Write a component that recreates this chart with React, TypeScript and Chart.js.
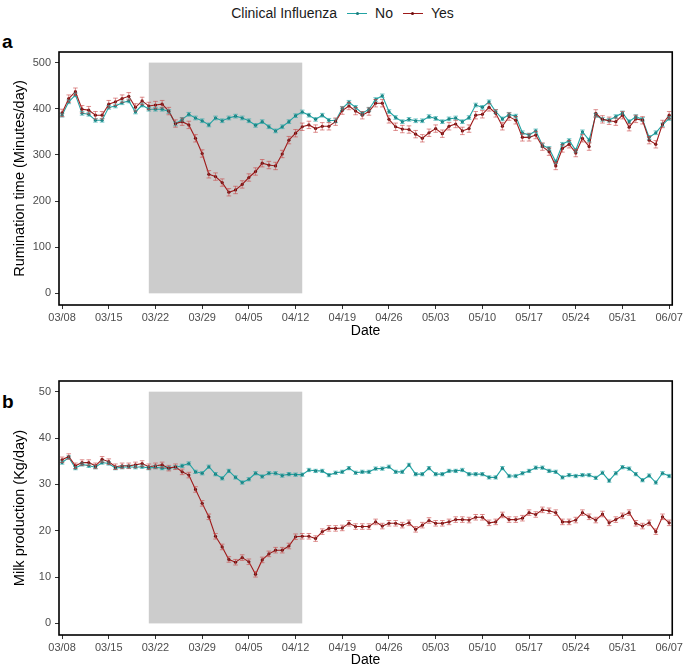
import React, { useEffect, useRef } from "react";
import { Chart, registerables } from "chart.js";
Chart.register(...registerables);

const FONT = "'Liberation Sans', Arial, Helvetica, sans-serif";

// Categories: daily dates starting 03/08 (92 days, through 06/07)
const START_MONTH = 3;
const START_DAY = 8;
const N_DAYS = 92;
const dayIndex = Array.from({ length: N_DAYS }, (_, i) => i);
const dateLabels = dayIndex.map((i) => {
  const d = new Date(2020, START_MONTH - 1, START_DAY + i);
  return String(d.getMonth() + 1).padStart(2, "0") + "/" + String(d.getDate()).padStart(2, "0");
});

// Tick labels (every 7 days)
const tickDays = [0, 7, 14, 21, 28, 35, 42, 49, 56, 63, 70, 77, 84, 91];
const tickLabels = ["03/08", "03/15", "03/22", "03/29", "04/05", "04/12", "04/19", "04/26", "05/03", "05/10", "05/17", "05/24", "05/31", "06/07"];

// Shaded outbreak window (day indices: 03/21 .. 04/13)
const bandStartDay = 13;
const bandEndDay = 36;

// Panel a: rumination time (minutes/day)
const rumNo = [
  386, 415, 430, 390, 388, 375, 375, 403, 406, 413, 417, 393, 408, 399, 399, 399, 394, 367, 377, 388,
  380, 374, 365, 380, 374, 380, 384, 380, 374, 364, 372, 361, 352, 361, 372, 385, 393, 386, 377, 386,
  375, 374, 401, 414, 403, 390, 399, 420, 428, 394, 381, 372, 377, 374, 374, 383, 379, 372, 378, 380,
  372, 381, 408, 403, 415, 394, 378, 388, 384, 348, 343, 352, 321, 314, 285, 323, 331, 310, 350, 332,
  386, 377, 375, 383, 391, 372, 383, 377, 338, 348, 365, 379,
];
const rumYes = [
  391, 422, 437, 399, 397, 386, 386, 410, 415, 422, 427, 403, 417, 406, 408, 410, 395, 368, 372, 365,
  336, 303, 258, 253, 240, 219, 224, 236, 251, 264, 282, 278, 276, 302, 332, 347, 361, 365, 357, 362,
  362, 372, 396, 406, 395, 386, 394, 412, 412, 377, 361, 356, 355, 345, 336, 348, 357, 346, 362, 367,
  352, 357, 386, 388, 403, 390, 362, 383, 375, 338, 338, 343, 318, 307, 276, 314, 323, 304, 336, 318,
  390, 377, 374, 372, 386, 360, 378, 375, 332, 323, 367, 386,
];
const rumErrNo = 4;
const rumErrYes = 8;

// Panel b: milk production (kg/day)
const milkNo = [
  34.7, 35.8, 33.5, 34.3, 34.0, 33.7, 34.7, 34.5, 33.5, 33.7, 33.8, 33.7, 33.8, 33.5, 33.7, 33.5, 33.5, 33.7, 34.0, 34.5,
  32.7, 32.4, 33.8, 32.2, 31.3, 32.9, 31.5, 30.4, 31.1, 32.4, 31.7, 32.4, 32.4, 31.9, 32.2, 32.1, 32.1, 33.1, 32.9, 32.9,
  32.0, 32.5, 32.7, 33.5, 32.5, 32.7, 32.7, 33.4, 33.4, 33.8, 32.7, 32.7, 34.2, 32.2, 32.2, 33.5, 32.2, 32.2, 32.9, 32.9,
  33.1, 32.2, 32.2, 32.2, 31.5, 31.5, 33.5, 31.8, 31.8, 32.4, 32.9, 33.6, 33.6, 32.9, 32.7, 31.5, 32.0, 31.8, 32.0, 32.0,
  31.4, 32.5, 30.8, 32.4, 33.7, 33.4, 32.2, 30.9, 31.9, 30.4, 32.4, 31.8,
];
const milkYes = [
  35.3, 36.0, 34.0, 34.7, 34.7, 34.0, 35.4, 34.9, 33.8, 34.0, 34.0, 34.2, 34.5, 33.8, 34.0, 34.2, 33.5, 33.8, 32.7, 32.0,
  28.9, 25.9, 23.0, 18.8, 16.5, 13.8, 13.2, 14.2, 13.3, 10.6, 13.7, 15.0, 15.8, 15.8, 16.7, 18.7, 18.8, 18.8, 18.3, 19.8,
  20.5, 20.5, 20.6, 21.6, 20.9, 20.9, 20.9, 21.9, 21.0, 21.6, 21.6, 21.2, 21.7, 20.3, 21.2, 22.2, 21.6, 21.6, 21.9, 22.4,
  22.4, 22.3, 22.9, 22.9, 21.7, 21.9, 23.4, 22.4, 22.4, 22.7, 23.9, 23.5, 24.5, 24.3, 23.9, 21.9, 21.9, 22.3, 23.9, 23.0,
  22.3, 23.6, 21.7, 22.4, 23.2, 23.9, 21.6, 21.0, 21.7, 19.8, 23.0, 21.7,
];
const milkErrNo = 0.35;
const milkErrYes = 0.6;

const TEAL = "#22A3A3";
const TEAL_PT = "#1A7C7C";
const TEAL_ERR = "rgba(34,163,163,0.6)";
const RED = "#9E1A1A";
const RED_PT = "#6E0E0E";
const RED_ERR = "rgba(200,70,70,0.6)";

type PanelProps = {
  top: number;
  height: number;
  padTop: number;
  xAxisH: number;
  no: number[];
  yes: number[];
  errNo: number;
  errYes: number;
  yMin: number;
  yMax: number;
  yTicks: number[];
  bandTop: number;
  yTitle: string;
};

function Panel(p: PanelProps) {
  const ref = useRef<HTMLCanvasElement | null>(null);
  useEffect(() => {
    if (!ref.current) return;
    const band = {
      id: "band",
      beforeDatasetsDraw(chart: any) {
        const { ctx, scales } = chart;
        const x0 = scales.x.getPixelForValue(bandStartDay);
        const x1 = scales.x.getPixelForValue(bandEndDay);
        const y0 = scales.y.getPixelForValue(p.bandTop);
        const y1 = scales.y.getPixelForValue(0);
        ctx.save();
        ctx.fillStyle = "#CCCCCC";
        ctx.fillRect(x0, y0, x1 - x0, y1 - y0);
        ctx.restore();
      },
    };
    const errs = {
      id: "errs",
      afterDatasetsDraw(chart: any) {
        const { ctx, scales } = chart;
        ctx.save();
        ctx.lineWidth = 1;
        chart.data.datasets.forEach((ds: any) => {
          ctx.strokeStyle = ds.errColor;
          ds.data.forEach((pt: any) => {
            const px = scales.x.getPixelForValue(pt.x);
            const yt = scales.y.getPixelForValue(pt.y + ds.err);
            const yb = scales.y.getPixelForValue(pt.y - ds.err);
            ctx.beginPath();
            ctx.moveTo(px, yt);
            ctx.lineTo(px, yb);
            ctx.moveTo(px - 2.3, yt);
            ctx.lineTo(px + 2.3, yt);
            ctx.moveTo(px - 2.3, yb);
            ctx.lineTo(px + 2.3, yb);
            ctx.stroke();
          });
        });
        ctx.restore();
      },
    };
    const frame = {
      id: "frame",
      afterDraw(chart: any) {
        const { ctx, chartArea: a } = chart;
        ctx.save();
        ctx.strokeStyle = "#000";
        ctx.lineWidth = 1.6;
        ctx.strokeRect(a.left, a.top, a.right - a.left, a.bottom - a.top);
        ctx.restore();
      },
    };
    const chart = new Chart(ref.current, {
      type: "line",
      data: {
        datasets: [
          {
            label: "No",
            data: dayIndex.map((i) => ({ x: i, y: p.no[i] })),
            borderColor: TEAL,
            backgroundColor: TEAL_PT,
            pointBackgroundColor: TEAL_PT,
            pointBorderWidth: 0,
            pointRadius: 1.6,
            borderWidth: 1.1,
            tension: 0,
            order: 1,
            err: p.errNo,
            errColor: TEAL_ERR,
          } as any,
          {
            label: "Yes",
            data: dayIndex.map((i) => ({ x: i, y: p.yes[i] })),
            borderColor: RED,
            backgroundColor: RED_PT,
            pointBackgroundColor: RED_PT,
            pointBorderWidth: 0,
            pointRadius: 1.6,
            borderWidth: 1.1,
            tension: 0,
            order: 0,
            err: p.errYes,
            errColor: RED_ERR,
          } as any,
        ],
      },
      options: {
        animation: false,
        responsive: false,
        maintainAspectRatio: false,
        layout: { padding: { left: 0, right: 12, top: p.padTop, bottom: 0 } },
        plugins: { legend: { display: false }, tooltip: { enabled: false } },
        scales: {
          x: {
            type: "linear",
            min: -0.46,
            max: 91.46,
            afterBuildTicks: (axis: any) => {
              axis.ticks = tickDays.map((v) => ({ value: v }));
            },
            afterFit: (axis: any) => {
              axis.height = p.xAxisH;
            },
            grid: { drawOnChartArea: false, drawTicks: true, tickLength: 4, color: "#333", tickWidth: 1 },
            border: { display: false },
            ticks: {
              autoSkip: false,
              maxRotation: 0,
              padding: 2,
              color: "#4D4D4D",
              font: { family: FONT, size: 11 },
              callback: (v: any) => {
                const idx = tickDays.indexOf(Number(v));
                return idx >= 0 ? tickLabels[idx] : dateLabels[Number(v)] ?? "";
              },
            },
            title: {
              display: true,
              text: "Date",
              color: "#000",
              font: { family: FONT, size: 14 },
              padding: { top: 0, bottom: 0 },
            },
          },
          y: {
            type: "linear",
            min: p.yMin,
            max: p.yMax,
            afterBuildTicks: (axis: any) => {
              axis.ticks = p.yTicks.map((v) => ({ value: v }));
            },
            afterFit: (axis: any) => {
              axis.width = 59;
            },
            grid: { drawOnChartArea: false, drawTicks: true, tickLength: 4, color: "#333", tickWidth: 1 },
            border: { display: false },
            ticks: {
              padding: 4,
              color: "#4D4D4D",
              font: { family: FONT, size: 11 },
            },
            title: {
              display: true,
              text: p.yTitle,
              color: "#000",
              font: { family: FONT, size: 14.5 },
              padding: { top: 11, bottom: 0 },
            },
          },
        },
      } as any,
      plugins: [band, errs, frame],
    });
    return () => chart.destroy();
  }, []);
  return (
    <canvas
      ref={ref}
      width={685}
      height={p.height}
      style={{ position: "absolute", left: 0, top: p.top, width: 685, height: p.height }}
    />
  );
}

function LegendKey({ color, pt }: { color: string; pt: string }) {
  return (
    <span style={{ position: "relative", display: "inline-block", width: 20, height: 10, margin: "0 8px 0 10px" }}>
      <span style={{ position: "absolute", left: 0, right: 0, top: 4.5, height: 1.2, background: color }} />
      <span style={{ position: "absolute", left: 8.5, top: 3.5, width: 3, height: 3, borderRadius: 2, background: pt }} />
    </span>
  );
}

export default function App() {
  return (
    <div style={{ position: "absolute", left: 0, top: 0, width: 685, height: 669, background: "#fff", fontFamily: FONT }}>
      <div
        style={{
          position: "absolute",
          left: 0,
          top: 3,
          width: 685,
          height: 20,
          display: "flex",
          justifyContent: "center",
          alignItems: "center",
          fontSize: 14,
          color: "#1a1a1a",
        }}
      >
        <span>Clinical Influenza</span>
        <LegendKey color={TEAL} pt={TEAL_PT} />
        <span>No</span>
        <LegendKey color={RED} pt={RED_PT} />
        <span>Yes</span>
      </div>
      <div style={{ position: "absolute", left: 2, top: 32, fontSize: 19, fontWeight: "bold", lineHeight: "20px" }}>a</div>
      <div style={{ position: "absolute", left: 2, top: 392, fontSize: 19, fontWeight: "bold", lineHeight: "20px" }}>b</div>
      <Panel
        top={40}
        height={300}
        padTop={12}
        xAxisH={35}
        no={rumNo}
        yes={rumYes}
        errNo={rumErrNo}
        errYes={rumErrYes}
        yMin={-25.3}
        yMax={523}
        yTicks={[0, 100, 200, 300, 400, 500]}
        bandTop={500}
        yTitle="Rumination time (Minutes/day)"
      />
      <Panel
        top={370}
        height={299}
        padTop={11}
        xAxisH={34}
        no={milkNo}
        yes={milkYes}
        errNo={milkErrNo}
        errYes={milkErrYes}
        yMin={-2.5}
        yMax={52.3}
        yTicks={[0, 10, 20, 30, 40, 50]}
        bandTop={50}
        yTitle="Milk production (Kg/day)"
      />
    </div>
  );
}
